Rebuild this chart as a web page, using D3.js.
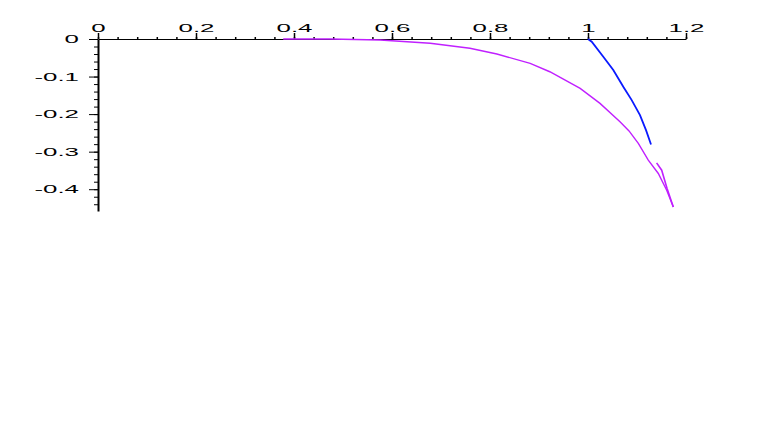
<!DOCTYPE html>
<html>
<head>
<meta charset="utf-8">
<script src="https://cdn.jsdelivr.net/npm/d3@7"></script>
<style>
  html, body { margin: 0; padding: 0; background: #fff; }
  svg { display: block; }
</style>
</head>
<body>
<div id="chart"></div>
<script>
// ---- data ----
const xTickValues = [0, 0.2, 0.4, 0.6, 0.8, 1, 1.2];
const xTickLabels = ["0", "0.2", "0.4", "0.6", "0.8", "1", "1.2"];
const yTickValues = [0, -0.1, -0.2, -0.3, -0.4];
const yTickLabels = ["0", "-0.1", "-0.2", "-0.3", "-0.4"];

const blueX = [1.0, 1.0076, 1.0312, 1.0516, 1.0720, 1.0892, 1.1061, 1.1184, 1.1286];
const blueY = [0, -0.0072, -0.0472, -0.0827, -0.1272, -0.1627, -0.2027, -0.2427, -0.2808];

const purpleX = [0.378, 0.473, 0.576, 0.678, 0.759, 0.814, 0.882, 0.922, 0.984, 1.0245, 1.0653, 1.0837, 1.1027, 1.123, 1.1435, 1.1606, 1.1741];
const purpleY = [0, 0, -0.0027, -0.0115, -0.0248, -0.04, -0.0648, -0.0872, -0.1315, -0.1715, -0.2205, -0.2448, -0.2781, -0.3227, -0.3581, -0.4027, -0.4472];

const purple2X = [1.140, 1.1504, 1.1612, 1.1741];
const purple2Y = [-0.3299, -0.3493, -0.3973, -0.4472];

// ---- layout ----
const W = 763, H = 436;
const svg = d3.select("#chart").append("svg").attr("width", W).attr("height", H);

const x = d3.scaleLinear().domain([0, 1.2]).range([98, 686]);
const y = d3.scaleLinear().domain([0, -0.458]).range([39, 211]);

const labelFont = "'Liberation Sans', Arial, sans-serif";
const fontSize = 11;
const stretch = 2.35;

// x minor ticks
const xMinor = d3.range(0, 31).map(i => +(i * 0.04).toFixed(4));
svg.append("g")
  .attr("transform", `translate(0,${y(0)})`)
  .call(d3.axisTop(x).tickValues(xMinor).tickSize(2).tickFormat(""))
  .call(g => g.select(".domain").remove())
  .call(g => g.selectAll("line").attr("stroke", "#000").attr("stroke-width", 1.5));

// x major axis
const xAxisG = svg.append("g")
  .attr("transform", `translate(0,${y(0)})`)
  .call(d3.axisTop(x).tickValues(xTickValues).tickSize(6).tickSizeOuter(0).tickPadding(1.5)
        .tickFormat((d, i) => xTickLabels[i]));
xAxisG.select(".domain").attr("stroke", "#000").attr("stroke-width", 1);
xAxisG.selectAll("line").attr("stroke", "#000").attr("stroke-width", 1.5);
xAxisG.selectAll("text")
  .attr("font-family", labelFont).attr("font-size", fontSize).attr("fill", "#000");

// y minor ticks
const yMinor = d3.range(0, 23).map(i => +(-i * 0.02).toFixed(4));
svg.append("g")
  .attr("transform", `translate(${x(0)},0)`)
  .call(d3.axisLeft(y).tickValues(yMinor).tickSize(4).tickFormat(""))
  .call(g => g.select(".domain").remove())
  .call(g => g.selectAll("line").attr("stroke", "#000").attr("stroke-width", 1));

// y major axis
const yAxisG = svg.append("g")
  .attr("transform", `translate(${x(0)},0)`)
  .call(d3.axisLeft(y).tickValues(yTickValues).tickSize(9).tickSizeOuter(0).tickPadding(10)
        .tickFormat((d, i) => yTickLabels[i]));
yAxisG.select(".domain").attr("stroke", "#000").attr("stroke-width", 2);
yAxisG.selectAll("line").attr("stroke", "#000").attr("stroke-width", 1);
yAxisG.selectAll("text")
  .attr("font-family", labelFont).attr("font-size", fontSize).attr("fill", "#000");

// stretch labels horizontally (wide spaced look)
svg.selectAll(".tick text").each(function() {
  const len = this.getComputedTextLength();
  if (len > 0) {
    d3.select(this).attr("textLength", len * stretch).attr("lengthAdjust", "spacingAndGlyphs");
  }
});

// ---- lines ----
const line = d3.line().x(d => x(d[0])).y(d => y(d[1])).curve(d3.curveLinear);

svg.append("path")
  .datum(purpleX.map((v, i) => [v, purpleY[i]]))
  .attr("d", line).attr("fill", "none")
  .attr("stroke", "#c020ff").attr("stroke-width", 1.4);

svg.append("path")
  .datum(purple2X.map((v, i) => [v, purple2Y[i]]))
  .attr("d", line).attr("fill", "none")
  .attr("stroke", "#c020ff").attr("stroke-width", 1.6);

svg.append("path")
  .datum(blueX.map((v, i) => [v, blueY[i]]))
  .attr("d", line).attr("fill", "none")
  .attr("stroke", "#0a1aff").attr("stroke-width", 1.8);
</script>
</body>
</html>
